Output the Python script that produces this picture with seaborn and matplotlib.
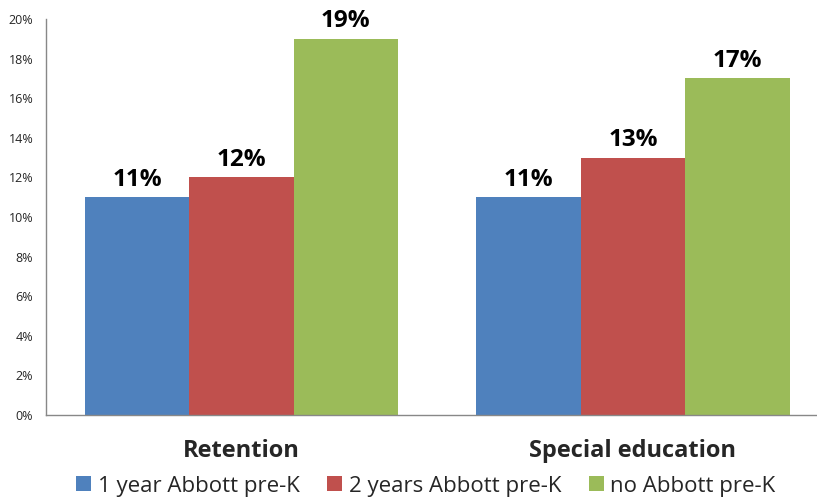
import pandas as pd
import matplotlib.pyplot as plt
import seaborn as sns
from matplotlib.ticker import FuncFormatter

categories = ["Retention", "Special education"]
groups = ["1 year Abbott pre-K", "2 years Abbott pre-K", "no Abbott pre-K"]
values = {
    "1 year Abbott pre-K": [11, 11],
    "2 years Abbott pre-K": [12, 13],
    "no Abbott pre-K": [19, 17],
}
colors = ["#4F81BD", "#C0504D", "#9BBB59"]

rows = []
for g in groups:
    for cat, v in zip(categories, values[g]):
        rows.append({"category": cat, "group": g, "value": v})
df = pd.DataFrame(rows)

sns.set_theme(style="white")
plt.rcParams["font.family"] = ["Open Sans", "DejaVu Sans"]

fig = plt.figure(figsize=(8.17, 5), dpi=100)
ax = fig.add_axes([0.056, 0.17, 0.944, 0.792])

sns.barplot(data=df, x="category", y="value", hue="group", palette=colors,
            width=0.8, saturation=1, linewidth=0, ax=ax, legend=True)

for cont in ax.containers:
    ax.bar_label(cont, labels=[f"{v:.0f}%" for v in cont.datavalues],
                 padding=4, fontsize=17.5, fontweight="bold", color="black")

ax.set_ylim(0, 20)
ax.set_xlim(-0.5, 1.47)
ax.set_yticks(range(0, 21, 2))
ax.yaxis.set_major_formatter(FuncFormatter(lambda v, p: f"{v:.0f}%"))
ax.tick_params(axis="y", labelsize=9, length=0, pad=9)
ax.tick_params(axis="x", labelsize=17, length=0, pad=17)
for lbl in ax.get_xticklabels():
    lbl.set_fontweight("bold")
ax.set_xlabel("")
ax.set_ylabel("")

for s in ["top", "right"]:
    ax.spines[s].set_visible(False)
for s in ["left", "bottom"]:
    ax.spines[s].set_color("#888888")
    ax.spines[s].set_linewidth(1)

ax.legend(loc="center", bbox_to_anchor=(0.493, -0.18), ncol=3, frameon=False,
          fontsize=16, handlelength=0.66, handleheight=0.66, handletextpad=0.3,
          columnspacing=1.25, borderpad=0, borderaxespad=0)

fig.savefig("out.png", dpi=100)
